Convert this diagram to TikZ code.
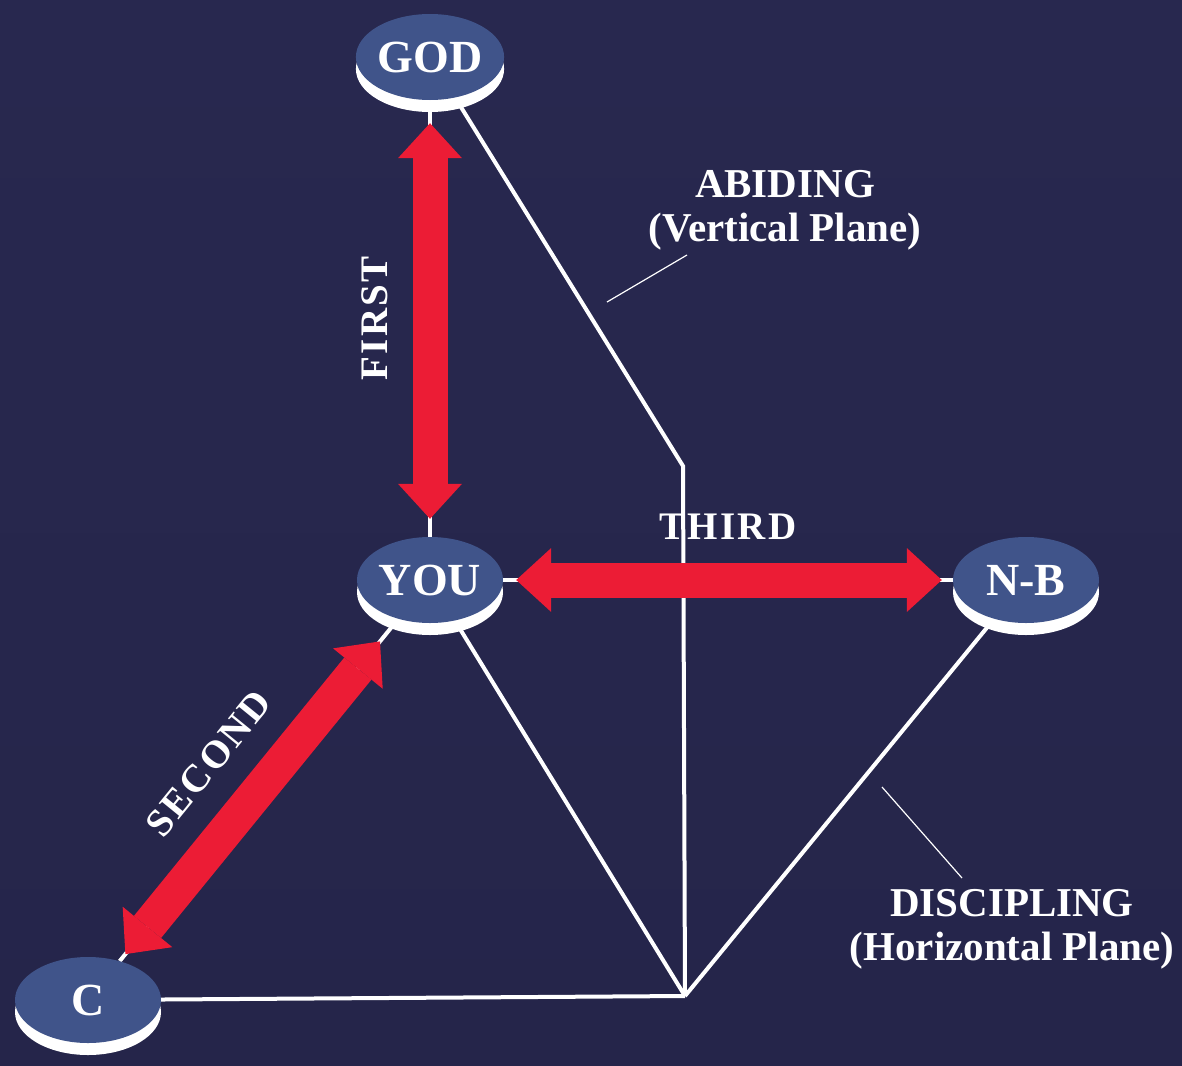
\documentclass[tikz,border=0pt]{standalone}
\usepackage{fontspec}
\setmainfont{Liberation Serif}
\usepackage{tikz}
\usetikzlibrary{arrows.meta,positioning,shapes.geometric,shadows,backgrounds}
\definecolor{NightTop}{HTML}{28284F}
\definecolor{NightMid}{HTML}{2F2E5E}
\definecolor{NightBot}{HTML}{25254A}
\definecolor{DiscBlue}{HTML}{40548A}
\definecolor{CrossRed}{HTML}{EC1C35}
\newfontfamily\spacedserif[LetterSpace=6]{Liberation Serif}
\tikzset{
  disc/.style={ellipse, fill=DiscBlue, minimum width=146pt, minimum height=86pt, inner sep=0pt, text=white, font=\fontsize{46}{50}\selectfont\bfseries, general shadow={fill=white, shadow yshift=-12pt}},
  plane/.style={draw=white, line width=4pt},
  pointer/.style={draw=white, line width=1.2pt},
  relation/.style={draw=CrossRed, line width=35pt, {Triangle[length=35pt,width=64pt,line width=0pt]}-{Triangle[length=35pt,width=64pt,line width=0pt]}},
  steplabel/.style={text=white, inner sep=0pt, font=\spacedserif\bfseries\fontsize{39}{42}\selectfont},
  planelabel/.style={text=white, align=center, font=\fontsize{41}{44}\selectfont\bfseries}
}
\begin{document}
\begin{tikzpicture}[x=1pt,y=-1pt]
  \useasboundingbox (0,0) rectangle (1182,1065);
  \node[disc] (god) at (430,57) {GOD};
  \node[disc] (you) at (430,580) {YOU};
  \node[disc] (nb) at (1026,580) {N-B};
  \node[disc] (c) at (88,1000) {C};

  \coordinate (bend) at (683,466);
  \coordinate (base) at (685,996);

  \node[planelabel] (abiding) at (785,210) {ABIDING\\(Vertical Plane)};
  \node[planelabel] (discipling) at (1012,929) {DISCIPLING\\(Horizontal Plane)};
  \coordinate (abidingtip) at (607,302);
  \coordinate (abidingend) at (687,255);
  \coordinate (disciplingtip) at (882,787);
  \coordinate (disciplingend) at (962,878);

  \begin{scope}[on background layer]
    \shade[top color=NightTop, middle color=NightMid, bottom color=NightBot] (0,0) rectangle (1182,1065);
    \draw[plane] (god) -- (you);
    \draw[plane] (you) -- (nb);
    \draw[plane] (you) -- (c);
    \draw[plane] (god) -- (bend) -- (base);
    \draw[plane] (c) -- (base);
    \draw[plane] (you) -- (base);
    \draw[plane] (nb) -- (base);
  \end{scope}

  \draw[pointer] (abidingtip) -- (abidingend);
  \draw[pointer] (disciplingtip) -- (disciplingend);

  \draw[relation, shorten <=18pt, shorten >=23pt] (you) -- node[steplabel, midway, sloped, above=25pt] {FIRST} (god);
  \draw[relation, shorten <=13pt, shorten >=11pt] (you) -- node[steplabel, midway, sloped, above=23pt] {THIRD} (nb);
  \draw[relation, shorten <=9pt, shorten >=29pt] (c) -- node[steplabel, pos=0.475, sloped, above=25pt] {SECOND} (you);
\end{tikzpicture}
\end{document}
